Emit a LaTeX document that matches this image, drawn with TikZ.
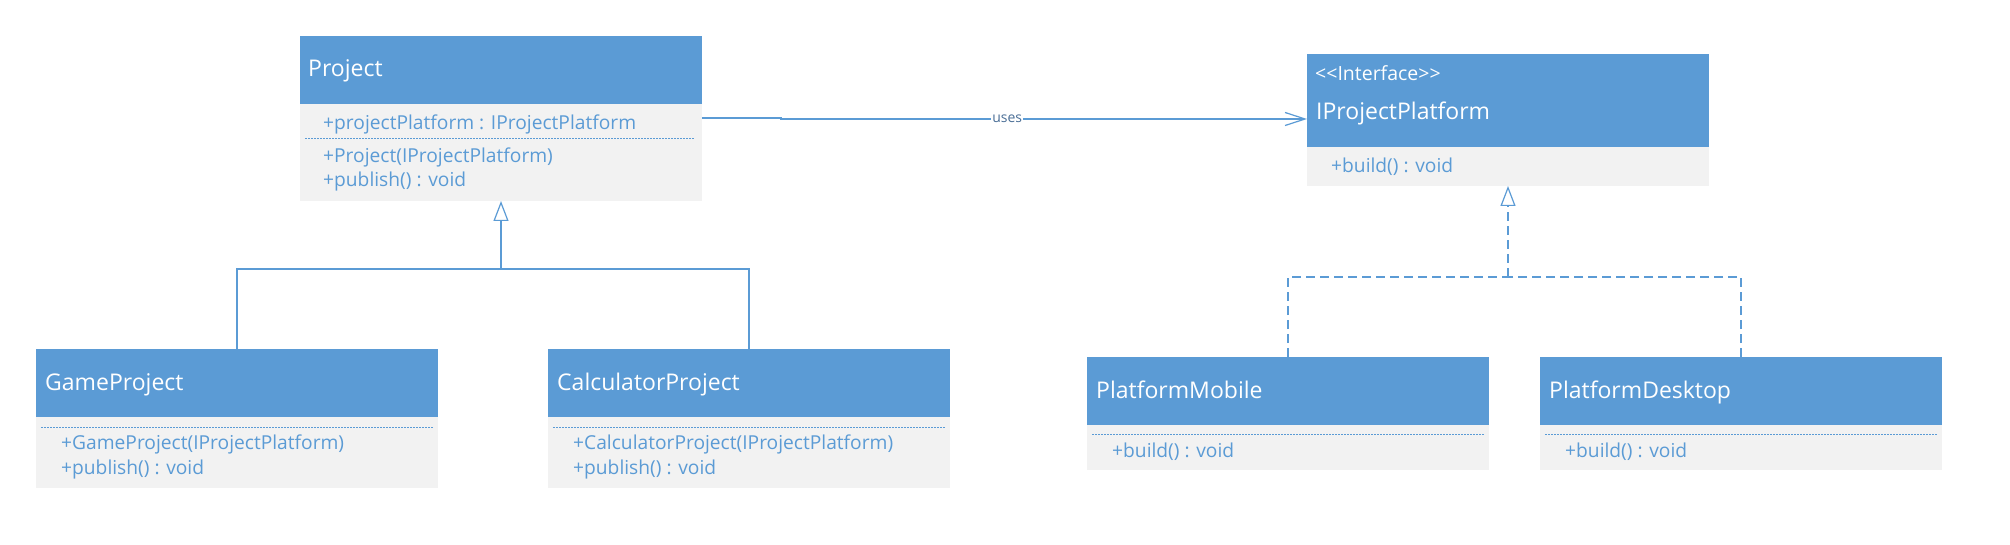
\documentclass[tikz,border=0pt]{standalone}
\usepackage{fontspec}
\setmainfont{Open Sans}
\usetikzlibrary{arrows.meta,calc}
\definecolor{hblue}{HTML}{5B9BD5}
\definecolor{bgray}{HTML}{F2F2F2}
\definecolor{lblue}{HTML}{5B9BD5}
\definecolor{ulab}{HTML}{4A6E96}
\begin{document}
\begin{tikzpicture}[x=1pt,y=-1pt,
  hdr/.style={rectangle, fill=hblue, minimum width=402pt, anchor=north west, inner sep=0pt, outer sep=0pt},
  bodybox/.style={rectangle, fill=bgray, minimum width=402pt, anchor=north west, inner sep=0pt, outer sep=0pt},
  ttl/.style={anchor=base west, inner sep=0pt, text=white, font=\fontsize{23}{26}\selectfont},
  stereo/.style={anchor=base west, inner sep=0pt, text=white, font=\fontsize{19.5}{22}\selectfont},
  mem/.style={anchor=base west, inner sep=0pt, text=lblue, font=\fontsize{19.2}{22}\selectfont},
  sep/.style={draw=lblue, line width=1pt, dash pattern=on 1.5pt off 1.5pt},
  conn/.style={draw=lblue, line width=1.2pt},
  gen/.style={conn, -{Triangle[open, length=20pt, width=15pt, line width=1.2pt]}},
  real/.style={gen, dash pattern=on 9pt off 5pt},
  usearrow/.style={conn, -{Straight Barb[length=20pt, width=13pt, line width=1.2pt]}}
]
\useasboundingbox (0,0) rectangle (2010,545);
\fill[white] (0,0) rectangle (2010,545);

% Project
\node[hdr, minimum height=68pt] (ph) at (300,36) {};
\node[bodybox, minimum height=97pt] (pb) at (300,104) {};
\node[ttl] (pt) at (308,77) {Project};
\node[mem] (pm1) at (323,130) {+projectPlatform : IProjectPlatform};
\draw[sep] (305,139) -- (695,139);
\node[mem] (pm2) at (323,163) {+Project(IProjectPlatform)};
\node[mem] (pm3) at (323,187) {+publish() : void};

% IProjectPlatform
\node[hdr, minimum height=93pt] (ih) at (1307,54) {};
\node[bodybox, minimum height=39pt] (ib) at (1307,147) {};
\node[stereo] (is) at (1315,81) {{<}{<}Interface{>}{>}};
\node[ttl] (it) at (1316,120) {IProjectPlatform};
\node[mem] (im1) at (1331,173) {+build() : void};

% GameProject
\node[hdr, minimum height=68pt] (gh) at (36,349) {};
\node[bodybox, minimum height=71pt] (gb) at (36,417) {};
\node[ttl] (gt) at (45,390) {GameProject};
\draw[sep] (41,427) -- (433,427);
\node[mem] (gm1) at (61,449) {+GameProject(IProjectPlatform)};
\node[mem] (gm2) at (61,474) {+publish() : void};

% CalculatorProject
\node[hdr, minimum height=68pt] (ch) at (548,349) {};
\node[bodybox, minimum height=71pt] (cb) at (548,417) {};
\node[ttl] (ct) at (557,390) {CalculatorProject};
\draw[sep] (553,427) -- (945,427);
\node[mem] (cm1) at (573,449) {+CalculatorProject(IProjectPlatform)};
\node[mem] (cm2) at (573,474) {+publish() : void};

% PlatformMobile
\node[hdr, minimum height=68pt] (mh) at (1087,357) {};
\node[bodybox, minimum height=45pt] (mb) at (1087,425) {};
\node[ttl] (mt) at (1096,398) {PlatformMobile};
\draw[sep] (1092,434) -- (1484,434);
\node[mem] (mm1) at (1112,457) {+build() : void};

% PlatformDesktop
\node[hdr, minimum height=68pt] (dh) at (1540,357) {};
\node[bodybox, minimum height=45pt] (db) at (1540,425) {};
\node[ttl] (dt) at (1549,398) {PlatformDesktop};
\draw[sep] (1545,434) -- (1937,434);
\node[mem] (dm1) at (1565,457) {+build() : void};

% inheritance
\coordinate (j1) at (501,269);
\draw[conn] (gh.north) |- (j1);
\draw[conn] (ch.north) |- (j1);
\draw[gen] (j1) -- (pb.south);

% realization
\coordinate (j2) at (1508,277);
\draw[conn, dash pattern=on 9pt off 5pt] (mh.north) |- (j2);
\draw[conn, dash pattern=on 9pt off 5pt] (dh.north) |- (j2);
\draw[real] (j2) -- (ib.south);

% uses
\coordinate (u0) at ($(pb.north east)+(0,14)$);
\coordinate (u1) at (781,118);
\coordinate (u2) at (781,119);
\coordinate (u3) at ($(ih.north west)+(0,65)$);
\draw[usearrow] (u0) -- (u1) -- (u2) -- (u3)
  node[pos=0.43, fill=white, inner sep=1pt, text=ulab, font=\fontsize{14}{16}\selectfont] (ul) {uses};
\end{tikzpicture}
\end{document}
